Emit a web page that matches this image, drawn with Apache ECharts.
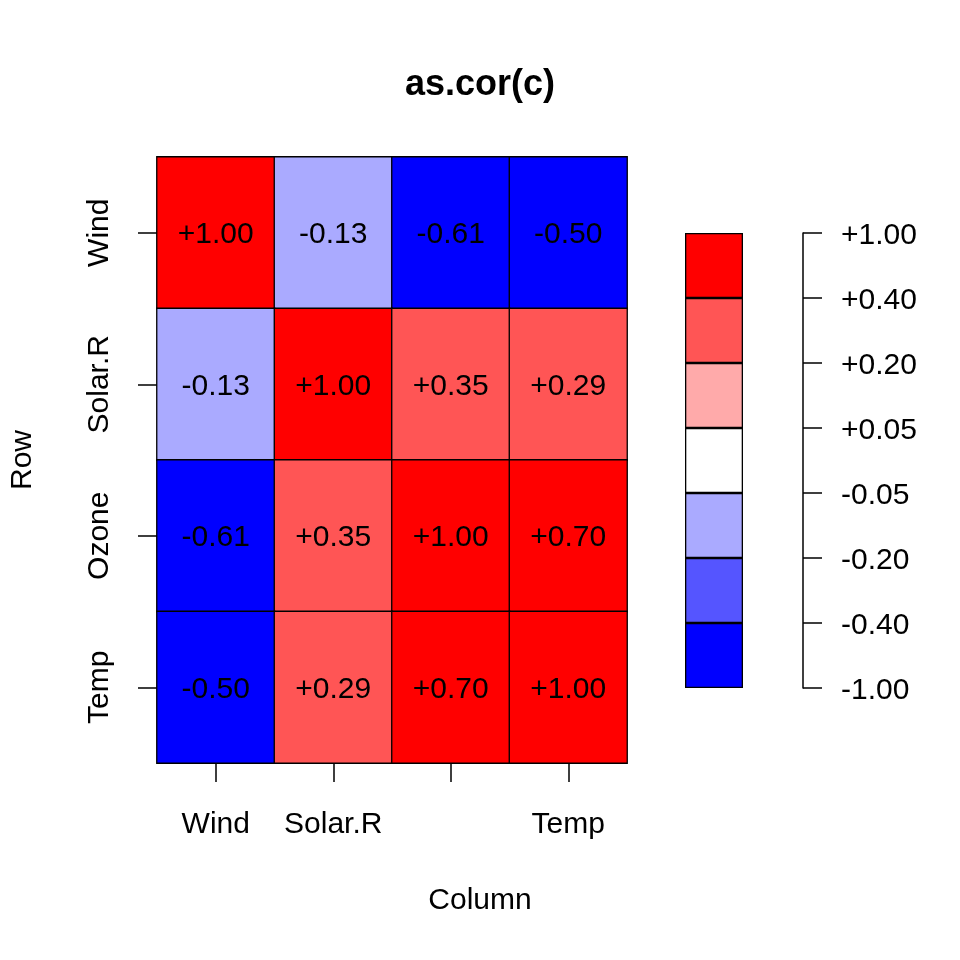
<!DOCTYPE html>
<html>
<head>
<meta charset="utf-8">
<script src="https://cdn.jsdelivr.net/npm/echarts@6/dist/echarts.min.js"></script>
<style>
html, body { margin: 0; padding: 0; background: #fff; }
#chart { width: 960px; height: 960px; }
</style>
</head>
<body>
<div id="chart"></div>
<script>
// variables of the matrix (columns left->right, rows top->bottom)
var colNames = ["Wind", "Solar.R", "Ozone", "Temp"];
var rowNames = ["Wind", "Solar.R", "Ozone", "Temp"];
// R drops the overlapping "Ozone" tick label on the x axis
var colTickLabels = ["Wind", "Solar.R", "", "Temp"];

// correlation values, one array per row
var rowWind   = [1.00, -0.13, -0.61, -0.50];
var rowSolarR = [-0.13, 1.00, 0.35, 0.29];
var rowOzone  = [-0.61, 0.35, 1.00, 0.70];
var rowTemp   = [-0.50, 0.29, 0.70, 1.00];

// colour key
var breaks = [-1, -0.4, -0.2, -0.05, 0.05, 0.2, 0.4, 1];
var breakLabels = ["-1.00", "-0.40", "-0.20", "-0.05", "+0.05", "+0.20", "+0.40", "+1.00"];
var keyColors = ["#0000FF", "#5555FF", "#AAAAFF", "#FFFFFF", "#FFAAAA", "#FF5555", "#FF0000"];

var FONT = "Liberation Sans, Arial, sans-serif";
var FS = 30;

function fmt(v) {
	return (v >= 0 ? "+" : "") + v.toFixed(2);
}

var rows = [rowWind, rowSolarR, rowOzone, rowTemp];
var heatData = [];
for (var r = 0; r < rows.length; r++) {
	for (var c = 0; c < rows[r].length; c++) {
		heatData.push([c, r, rows[r][c]]);
	}
}

// visualMap pieces from the breaks
var pieces = [];
for (var i = 0; i < keyColors.length; i++) {
	if (i == keyColors.length - 1) {
		pieces.push({ gte: breaks[i], lte: breaks[i + 1], color: keyColors[i] });
	} else {
		pieces.push({ gte: breaks[i], lt: breaks[i + 1], color: keyColors[i] });
	}
}

// key as stacked bars, one per bin
var keySeries = [];
for (var k = 0; k < keyColors.length; k++) {
	keySeries.push({
		type: "bar",
		xAxisIndex: 1,
		yAxisIndex: 1,
		stack: "key",
		barWidth: "100%",
		silent: true,
		data: [1],
		itemStyle: { color: keyColors[k], borderColor: "#000", borderWidth: 1.3 }
	});
}

var myChart = echarts.init(document.getElementById("chart"));
var options = {
	backgroundColor: "#fff",
	animation: false,
	title: {
		text: "as.cor(c)",
		left: "center",
		top: 62,
		textStyle: { fontFamily: FONT, fontSize: 36, fontWeight: "bold", color: "#000" }
	},
	graphic: [{
		// R centres the x title on the whole figure
		type: "text",
		left: "center",
		top: 886,
		style: { text: "Column", fontFamily: FONT, fontSize: FS, fill: "#000" }
	}],
	grid: [
		{ left: 157, top: 157, width: 470, height: 606 },
		{ left: 685, top: 233, width: 58, height: 455 }
	],
	xAxis: [
		{
			type: "category",
			gridIndex: 0,
			data: colNames,
			axisLine: { show: false },
			axisTick: { show: true, interval: 0, alignWithLabel: true, length: 19, lineStyle: { color: "#000", width: 1.5 } },
			axisLabel: {
				interval: 0,
				margin: 47,
				fontFamily: FONT, fontSize: FS, color: "#000",
				formatter: function (v, idx) { return colTickLabels[idx]; }
			},
			splitLine: { show: false }
		},
		{
			type: "category",
			gridIndex: 1,
			data: [""],
			show: false
		}
	],
	yAxis: [
		{
			type: "category",
			gridIndex: 0,
			data: rowNames,
			inverse: true,
			name: "Row",
			nameLocation: "middle",
			nameGap: 119,
			nameTextStyle: { fontFamily: FONT, fontSize: FS, color: "#000" },
			axisLine: { show: false },
			axisTick: { show: true, interval: 0, alignWithLabel: true, length: 19, lineStyle: { color: "#000", width: 1.5 } },
			axisLabel: { interval: 0, margin: 42, rotate: 90, fontFamily: FONT, fontSize: FS, color: "#000" },
			splitLine: { show: false }
		},
		{
			type: "value",
			gridIndex: 1,
			position: "right",
			offset: 60,
			min: 0,
			max: 7,
			interval: 1,
			axisLine: { show: true, lineStyle: { color: "#000", width: 1.5 } },
			axisTick: { show: true, length: 19, lineStyle: { color: "#000", width: 1.5 } },
			axisLabel: {
				margin: 38,
				fontFamily: FONT, fontSize: FS, color: "#000",
				formatter: function (v) { return "{k|" + breakLabels[Math.round(v)] + "}"; },
				rich: {
					k: { fontFamily: FONT, fontSize: FS, color: "#000", padding: [6, 0, 0, 0] }
				}
			},
			splitLine: { show: false }
		}
	],
	visualMap: {
		type: "piecewise",
		show: false,
		seriesIndex: 0,
		dimension: 2,
		pieces: pieces
	},
	series: [{
		type: "heatmap",
		xAxisIndex: 0,
		yAxisIndex: 0,
		data: heatData,
		silent: true,
		itemStyle: { borderColor: "#000", borderWidth: 1.3 },
		label: {
			show: true,
			offset: [0, 2],
			fontFamily: FONT, fontSize: FS, color: "#000",
			formatter: function (p) { return fmt(p.value[2]); }
		}
	}].concat(keySeries)
};
myChart.setOption(options);
</script>
</body>
</html>
